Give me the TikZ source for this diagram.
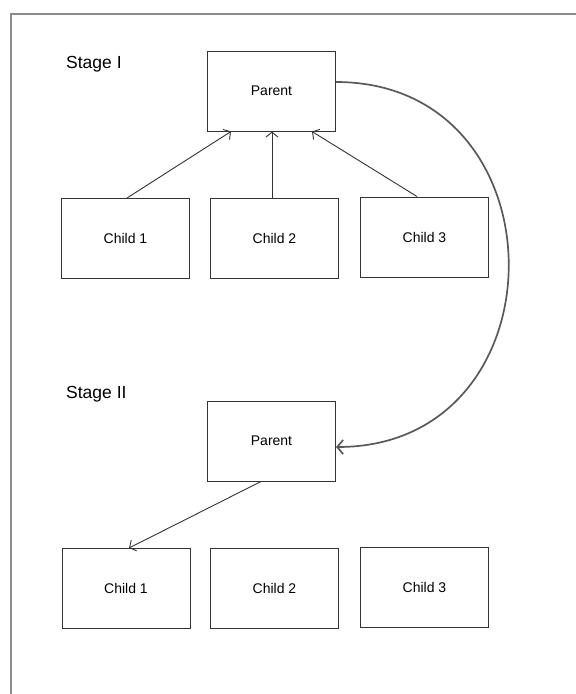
\documentclass[tikz,border=0pt]{standalone}
\usepackage{fontspec}
\setmainfont{Liberation Sans}
\usetikzlibrary{arrows.meta}
\tikzset{
  box/.style={draw=black!80, line width=1pt, minimum width=128pt, minimum height=80pt,
    inner sep=0pt, font=\fontsize{14}{16}\selectfont},
  stage/.style={anchor=west, inner sep=0pt, font=\fontsize{17.5}{20}\selectfont},
  arr/.style={draw=black!80, line width=0.9pt, -{Straight Barb[length=5pt,width=12pt]}}
}
\begin{document}
\begin{tikzpicture}[x=1pt,y=-1pt]
  \useasboundingbox (0,0) rectangle (576,694);
  % frame
  \draw[black!45, line width=2pt] (10.5,694) -- (10.5,14) -- (576,14);

  % stage I
  \node[stage] (s1) at (66,64) {Stage I};
  \node[box] (p1) at (271.5,91) {Parent};
  \node[box] (c1) at (125.5,238.5) {Child 1};
  \node[box] (c2) at (274.5,238.5) {Child 2};
  \node[box] (c3) at (424.5,237) {Child 3};

  \draw[arr] ([xshift=1.5pt]c1.north) -- ([xshift=-40.5pt]p1.south);
  \draw[arr] ([xshift=-2.5pt]c2.north) -- ([xshift=0.5pt]p1.south);
  \draw[arr] ([xshift=-7.5pt]c3.north) -- ([xshift=40.5pt]p1.south);

  % stage II
  \node[stage] (s2) at (66,394) {Stage II};
  \node[box] (q1) at (271.5,441) {Parent};
  \node[box] (d1) at (126,588.5) {Child 1};
  \node[box] (d2) at (274.5,588.5) {Child 2};
  \node[box] (d3) at (424.5,587) {Child 3};

  \draw[arr] ([xshift=-10.5pt]q1.south) -- ([xshift=3pt]d1.north);

  % parent to parent
  \draw[black!65, line width=1.7pt, -{Straight Barb[length=6pt,width=14pt]}]
    ([yshift=9pt]p1.east) .. controls +(230,0) and +(230,0) .. ([yshift=-6pt]q1.east);
\end{tikzpicture}
\end{document}
